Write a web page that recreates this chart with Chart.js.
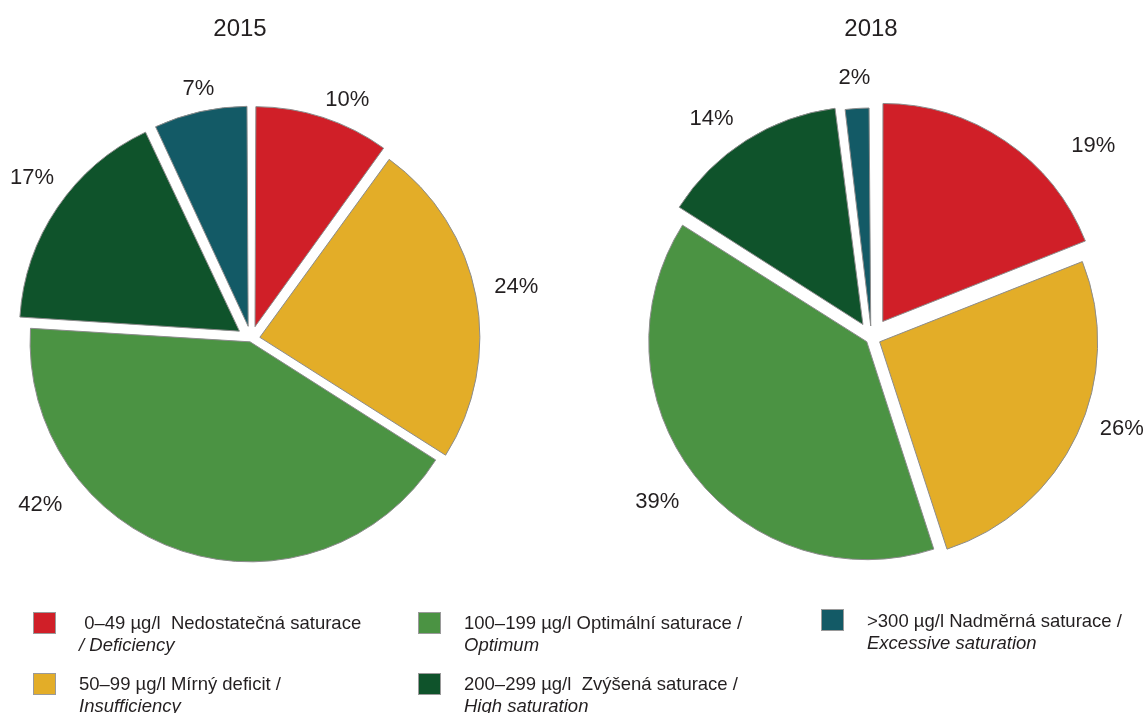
<!DOCTYPE html>
<html><head><meta charset="utf-8">
<script src="https://cdn.jsdelivr.net/npm/chart.js@4.4.1/dist/chart.umd.min.js"></script>
<style>
html,body{margin:0;padding:0;background:#fff;width:1147px;height:713px;overflow:hidden;font-family:"Liberation Sans",Arial,sans-serif;color:#231f20}
#wrap{position:relative;width:1147px;height:713px}
canvas{position:absolute;top:0}
.title{position:absolute;top:14px;font-size:24px;line-height:28px;transform:translateX(-50%)}
#legend{position:absolute;left:0;top:0;width:1147px;height:713px;pointer-events:none}
.sw{position:absolute;width:23px;height:22px;border:1px solid #9a9a9a;box-sizing:border-box}
.txt{position:absolute;font-size:18.5px;line-height:22px;white-space:pre}
.txt i{font-style:italic}
</style></head>
<body>
<div id="wrap">
  <canvas id="c2015" width="560" height="678" style="left:0px"></canvas>
  <canvas id="c2018" width="547" height="676" style="left:600px"></canvas>
  <div class="title" style="left:240px">2015</div>
  <div class="title" style="left:871px">2018</div>
  <div id="legend"></div>
</div>
<script>
// ---- data ----
const categoriesCz = [' 0–49 µg/l  Nedostatečná saturace', '50–99 µg/l Mírný deficit /', '100–199 µg/l Optimální saturace /', '200–299 µg/l  Zvýšená saturace /', '>300 µg/l Nadměrná saturace /'];
const categoriesEn = ['/ Deficiency', 'Insufficiency', 'Optimum', 'High saturation', 'Excessive saturation'];
const years = ['2015', '2018'];
const values2015 = [10, 24, 42, 17, 7];
const values2018 = [19, 26, 39, 14, 2];

// ---- style ----
const colors = ['#D01F28', '#E3AD28', '#4B9343', '#0F532B', '#135A66'];
const explode2015 = [13, 9, 3, 14, 13];
const explode2018 = [20, 9, 6, 16, 12];

// legend
const legendSlots = [{x:33,y:612},{x:33,y:673},{x:418,y:612},{x:418,y:673},{x:821,y:609}];
const lg = document.getElementById('legend');
categoriesCz.forEach((cz, i) => {
  const s = legendSlots[i];
  const sw = document.createElement('div');
  sw.className = 'sw'; sw.style.left = s.x + 'px'; sw.style.top = s.y + 'px'; sw.style.background = colors[i];
  lg.appendChild(sw);
  const t = document.createElement('div');
  t.className = 'txt'; t.style.left = (s.x + 46) + 'px'; t.style.top = (s.y + (i === 4 ? 1 : 0)) + 'px';
  t.appendChild(document.createTextNode(cz));
  t.appendChild(document.createElement('br'));
  const it = document.createElement('i'); it.textContent = categoriesEn[i];
  t.appendChild(it);
  lg.appendChild(t);
});

// keep every slice at the same radius regardless of its explode offset
const equalRadius = {
  id: 'equalRadius',
  beforeDatasetDraw(chart, args) {
    const meta = args.meta;
    const R = meta.controller.outerRadius;
    meta.data.forEach(el => {
      const t = (el.options.offset || 0) / 4;
      const fix = 1 - Math.sin(Math.min(Math.PI, el.circumference || 0));
      el.outerRadius = R - t * fix;
    });
  }
};

const pctLabels = {
  id: 'pctLabels',
  afterDatasetsDraw(chart, args, opts) {
    const ctx = chart.ctx;
    const meta = chart.getDatasetMeta(0);
    const vals = chart.data.datasets[0].data;
    const R = meta.controller.outerRadius;
    ctx.save();
    ctx.font = opts.font; ctx.fillStyle = opts.color;
    ctx.textAlign = 'center'; ctx.textBaseline = 'middle';
    meta.data.forEach((el, i) => {
      const mid = (el.startAngle + el.endAngle) / 2;
      const t = (el.options.offset || 0) / 4;
      const a = mid + (opts.angleShift[i] || 0) * Math.PI / 180;
      const r = R + opts.pad + (opts.radial[i] || 0);
      const ux = Math.cos(a), uy = Math.sin(a);
      const txt = vals[i] + '%';
      const w = ctx.measureText(txt).width;
      const x = el.x + Math.cos(mid) * t + ux * r + ux * w / 2;
      const y = el.y + Math.sin(mid) * t + uy * r + uy * 6;
      ctx.fillText(txt, x, y);
    });
    ctx.restore();
  }
};

function makePie(id, values, explode, radius, padRight, angleShift, radial) {
  return new Chart(document.getElementById(id), {
    type: 'pie',
    data: {
      labels: categoriesCz,
      datasets: [{
        data: values,
        backgroundColor: colors,
        borderColor: '#8c8c8c',
        borderWidth: 1,
        offset: explode.map(p => p * 4),
        hoverOffset: 0
      }]
    },
    options: {
      responsive: false,
      devicePixelRatio: 1,
      animation: false,
      events: [],
      radius: radius,
      layout: { padding: { left: 0, right: padRight, top: 0, bottom: 0 } },
      plugins: {
        legend: { display: false },
        tooltip: { enabled: false },
        title: { display: false },
        pctLabels: { font: '22px "Liberation Sans", Arial, sans-serif', color: '#231f20', pad: 24, angleShift: angleShift, radial: radial }
      }
    },
    plugins: [equalRadius, pctLabels]
  });
}

makePie('c2015', values2015, explode2015, 220, 58, [2.9, -1.1, 32.5, 3.9, 1.2], [-7.3, -4, 6, -2.4, -8.3]);
makePie('c2018', values2018, explode2018, 218, 4, [14.4, -4.25, -1.4, -2.3, 0], [16.8, -4.7, 6.3, 2.1, 1]);
</script>
</body></html>
